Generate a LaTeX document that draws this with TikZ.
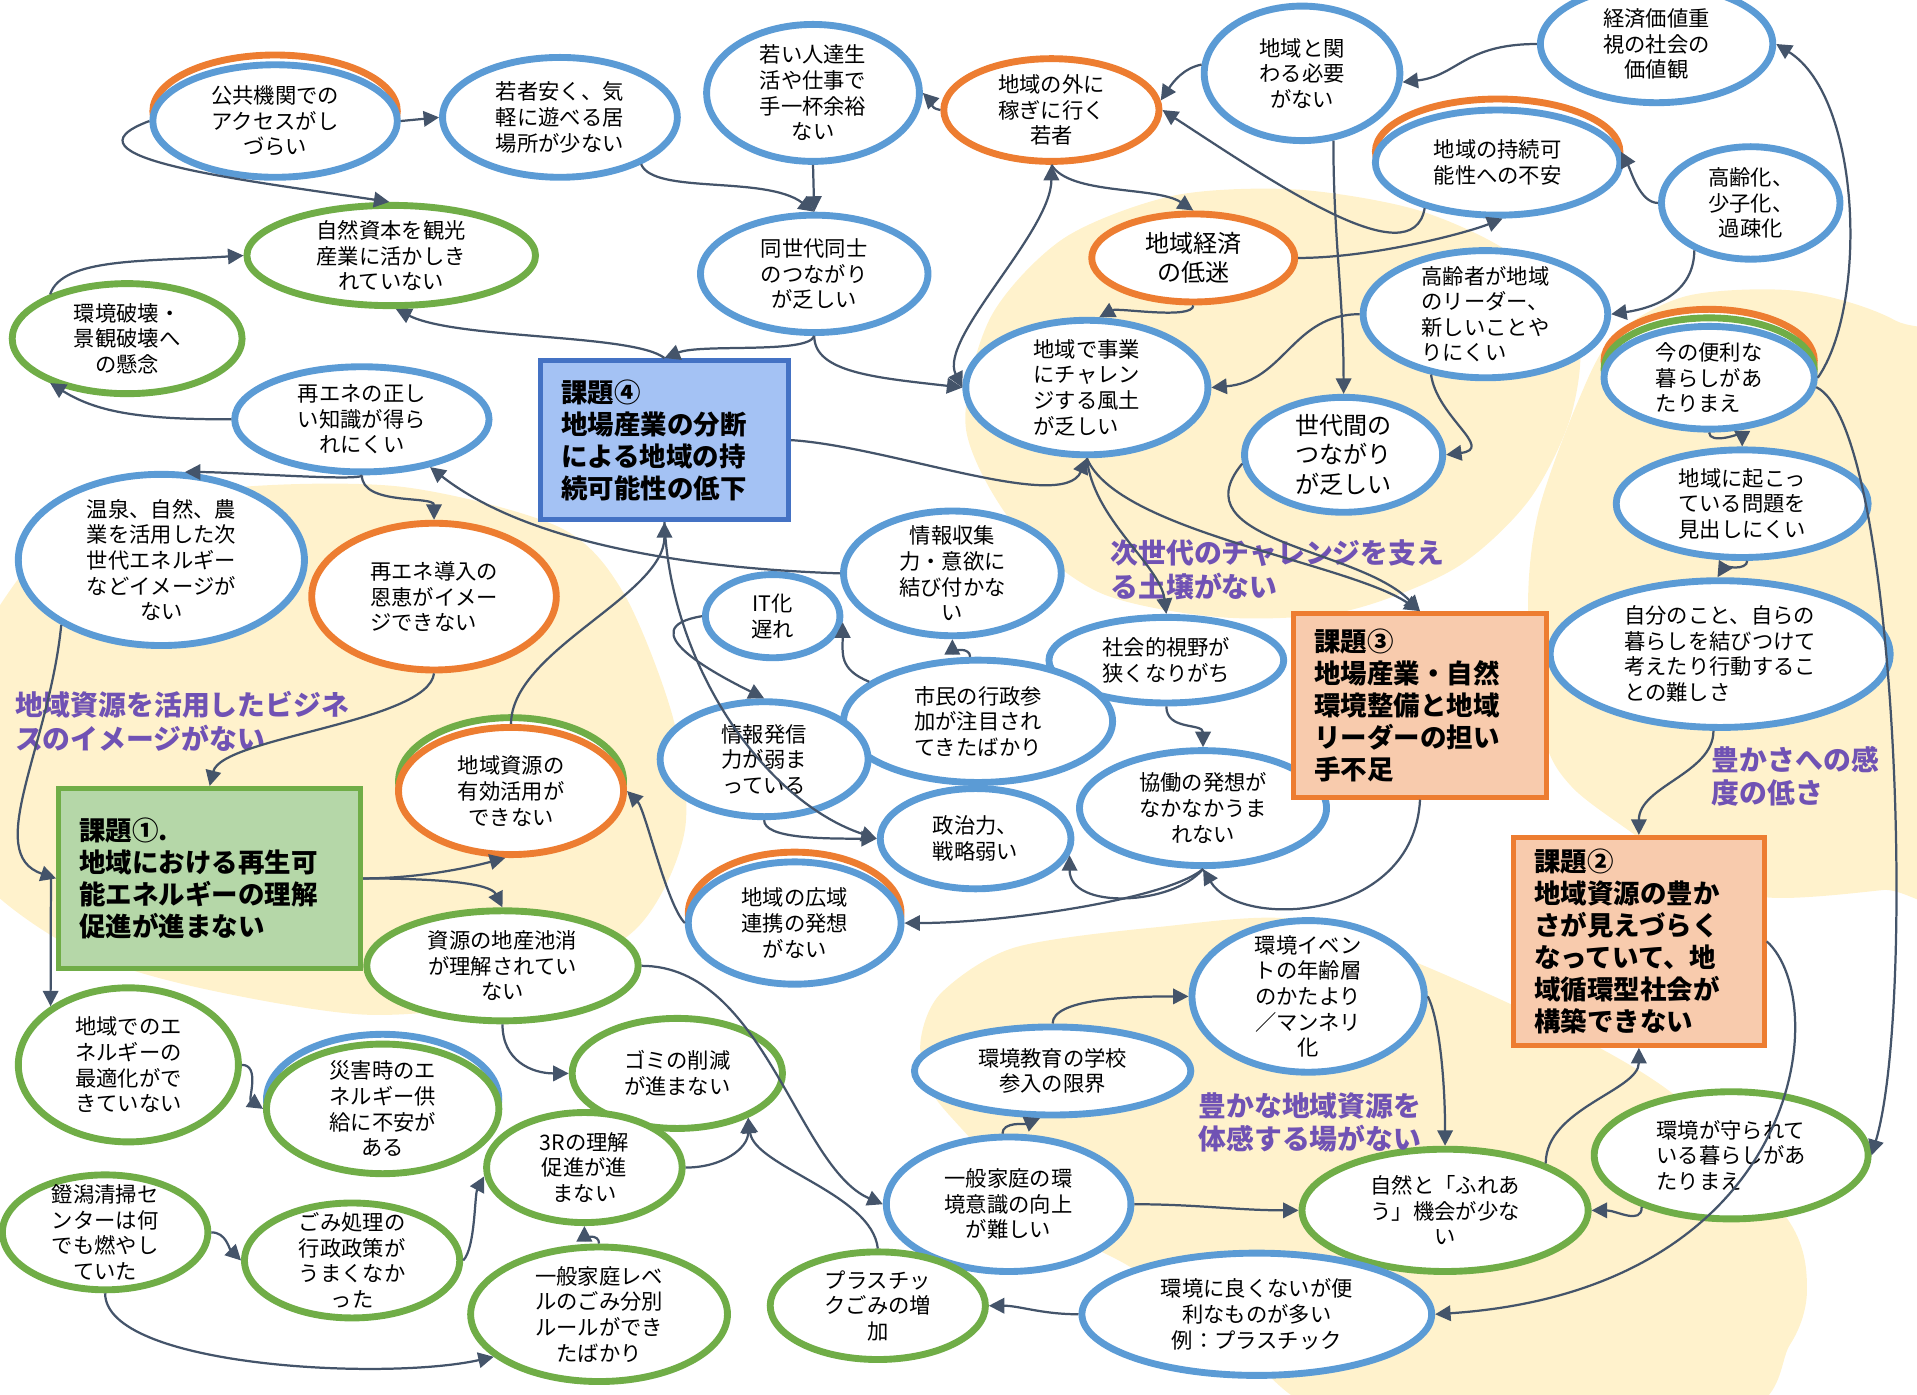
\documentclass[tikz,border=0pt]{standalone}
\usepackage{fontspec}
\setmainfont{Noto Sans CJK JP}
\usepackage{tikz}
\usetikzlibrary{arrows.meta,shapes.geometric}
\definecolor{cBlue}{HTML}{5B9BD5}
\definecolor{cOrange}{HTML}{ED7D31}
\definecolor{cGreen}{HTML}{70AD47}
\definecolor{cLine}{HTML}{44546A}
\definecolor{cCream}{HTML}{FFF2CC}
\definecolor{cPurple}{HTML}{7052B4}
\definecolor{cBoxBlue}{HTML}{A4C2F4}
\definecolor{cBoxBlueLine}{HTML}{4472C4}
\definecolor{cBoxOrange}{HTML}{F8CBAD}
\definecolor{cBoxGreen}{HTML}{B5D7A8}
\newcommand\elf{\fontsize{12.4pt}{14.9pt}\selectfont}
\newcommand\elfb{\fontsize{14pt}{17pt}\selectfont}
\newcommand\bxf{\bfseries\fontsize{15.4pt}{18.6pt}\selectfont}
\newcommand\lbf{\bfseries\fontsize{16.2pt}{19.4pt}\selectfont}

\begin{document}
\begin{tikzpicture}[x=0.025cm,y=-0.025cm,>={Triangle[length=9pt,width=9pt]},
 el/.style={ellipse,line width=4pt,fill=white,align=center,inner sep=-6pt,font=\elf},
 bl/.style={el,draw=cBlue},
 gr/.style={el,draw=cGreen},
 og/.style={el,draw=cOrange},
 sz/.style 2 args={minimum width=#1*0.05cm,minimum height=#2*0.05cm},
 ring/.style={line width=4pt,draw=#1,fill=white},
 bx/.style={rectangle,line width=3pt,align=left,inner sep=0pt,font=\bxf},
 lb/.style={anchor=west,align=left,text=cPurple,font=\lbf,inner sep=0pt},
 e/.style={->,line width=1.3pt,draw=cLine}]
\useasboundingbox (0,0) rectangle (1568,1141);
\clip (0,0) rectangle (1568,1141);

\fill[cCream] plot[smooth cycle] coordinates {(0,495) (60,430) (180,400) (327,398) (457,431) (510,485) (551,589) (560,680) (520,760) (420,815) (300,830) (150,805) (50,770) (-30,700) (-40,580)};
\fill[cCream] plot[smooth cycle] coordinates {(790,350) (810,260) (870,195) (960,160) (1060,155) (1160,172) (1240,210) (1290,270) (1285,340) (1250,410) (1190,465) (1100,500) (1000,505) (900,485) (830,430)};
\fill[cCream] plot[smooth cycle] coordinates {(1250,500) (1258,420) (1290,330) (1320,275) (1380,242) (1470,238) (1550,262) (1620,320) (1620,715) (1540,728) (1445,734) (1379,712) (1336,682) (1286,644) (1263,603)};
\fill[cCream] plot[smooth cycle] coordinates {(753,851) (770,812) (830,775) (950,758) (1060,752) (1165,790) (1297,851) (1381,905) (1464,1000) (1478,1055) (1464,1100) (1410,1160) (1100,1160) (1000,1085) (924,1036) (860,1000) (790,927) (760,890)};

\draw[ring=cOrange] (225,91) ellipse [x radius=100,y radius=46];
\draw[ring=cOrange] (1225,124) ellipse [x radius=100,y radius=43];
\draw[ring=cOrange] (1398,295) ellipse [x radius=86,y radius=42];
\draw[ring=cGreen] (1398,302) ellipse [x radius=86,y radius=42];
\draw[ring=cGreen] (418,639) ellipse [x radius=92,y radius=52];
\draw[ring=cOrange] (650,747) ellipse [x radius=87,y radius=50];
\draw[ring=cBlue] (313,899) ellipse [x radius=95,y radius=53];

\node[bl,sz={100}{46}] (acc) at (225,99) {公共機関での\\アクセスがし\\づらい};
\node[bl,sz={96}{49}] (ibasho) at (458,96) {若者安く、気\\軽に遊べる居\\場所が少ない};
\node[bl,sz={87}{56}] (yoyu) at (665,76) {若い人達生\\活や仕事で\\手一杯余裕\\ない};
\node[og,sz={88}{42}] (soto) at (860,90) {地域の外に\\稼ぎに行く\\若者};
\node[bl,sz={80}{55}] (kakawaru) at (1065,60) {地域と関\\わる必要\\がない};
\node[bl,sz={95}{48}] (keizai) at (1355,36) {経済価値重\\視の社会の\\価値観};
\node[bl,sz={100}{43}] (jizoku) at (1225,133) {地域の持続可\\能性への不安};
\node[bl,sz={73}{46},align=left] (koreika) at (1432,166) {高齢化、\\少子化、\\\hspace*{0.5em}過疎化};
\node[gr,sz={118}{41}] (tourism) at (320,209) {自然資本を観光\\産業に活かしき\\れていない};
\node[gr,sz={94}{45}] (keikan) at (104,277) {環境破壊・\\景観破壊へ\\の懸念};
\node[bl,sz={93}{48}] (sedai) at (666,224) {同世代同士\\のつながり\\が乏しい};
\node[og,sz={83}{36},font=\elfb] (teimei) at (976,211) {地域経済\\の低迷};
\node[bl,sz={100}{52},align=left] (leader) at (1215,257) {高齢者が地域\\のリーダー、\\新しいことや\\りにくい};
\node[bl,sz={86}{42},align=left] (benri) at (1398,309) {今の便利な\\暮らしがあ\\たりまえ};
\node[bl,sz={99}{55},align=left] (challenge) at (889,317) {地域で事業\\にチャレン\\ジする風土\\が乏しい};
\node[bl,sz={81}{47},font=\elfb,align=left] (sedaikan) at (1099,372) {世代間の\\つながり\\が乏しい};
\node[bl,sz={104}{43}] (chishiki) at (296,343) {再エネの正し\\い知識が得ら\\れにくい};
\node[bl,sz={103}{44}] (hakken) at (1425,412) {地域に起こっ\\ている問題を\\見出しにくい};
\node[bl,sz={117}{70}] (onsen) at (132,458) {温泉、自然、農\\業を活用した次\\世代エネルギー\\などイメージが\\ない};
\node[og,sz={100}{60},align=left] (onkei) at (355,488) {再エネ導入の\\恩恵がイメー\\ジできない};
\node[bl,sz={89}{51}] (joho) at (779,469) {情報収集\\力・意欲に\\結び付かな\\い};
\node[bl,sz={55}{34}] (itka) at (632,504) {IT化\\遅れ};
\node[bl,sz={139}{60},align=left] (jibun) at (1407,535) {自分のこと、自らの\\暮らしを結びつけて\\考えたり行動するこ\\との難しさ};
\node[bl,sz={96}{35}] (shakai) at (954,540) {社会的視野が\\狭くなりがち};
\node[bl,sz={110}{50}] (shimin) at (800,590) {市民の行政参\\加が注目され\\てきたばかり};
\node[bl,sz={85}{47}] (hasshin) at (625,621) {情報発信\\力が弱ま\\っている};
\node[og,sz={92}{52}] (katsuyo) at (418,647) {地域資源の\\有効活用が\\できない};
\node[bl,sz={101}{47}] (kyodo) at (984,661) {協働の発想が\\なかなかうま\\れない};
\node[bl,sz={78}{41}] (seiji) at (798,686) {政治力、\\戦略弱い};
\node[bl,sz={87}{50}] (koiki) at (650,755) {地域の広域\\連携の発想\\がない};
\node[gr,sz={111}{45}] (chisan) at (411,790) {資源の地産池消\\が理解されてい\\ない};
\node[bl,sz={95}{62}] (event) at (1070,815) {環境イベン\\トの年齢層\\のかたより\\／マンネリ\\化};
\node[gr,sz={90}{63},align=left] (enopt) at (105,871) {地域でのエ\\ネルギーの\\最適化がで\\きていない};
\node[bl,sz={113}{36}] (gakko) at (861,876) {環境教育の学校\\参入の限界};
\node[gr,sz={86}{45}] (gomi) at (554,878) {ゴミの削減\\が進まない};
\node[gr,sz={95}{53}] (saigai) at (313,907) {災害時のエ\\ネルギー供\\給に不安が\\ある};
\node[gr,sz={80}{45}] (sanR) at (478,955) {3Rの理解\\促進が進\\まない};
\node[bl,sz={100}{55}] (ippan) at (825,985) {一般家庭の環\\境意識の向上\\が難しい};
\node[gr,sz={117}{50}] (shizen) at (1182,990) {自然と「ふれあ\\う」機会が少な\\い};
\node[gr,sz={112}{52},align=left] (mamorare) at (1416,945) {環境が守られて\\いる暮らしがあ\\たりまえ};
\node[gr,sz={84}{47}] (kameda) at (86,1008) {鐙潟清掃セ\\ンターは何\\でも燃やし\\ていた};
\node[gr,sz={88}{47}] (gomishori) at (288,1031) {ごみ処理の\\行政政策が\\うまくなか\\った};
\node[gr,sz={105}{55}] (bunbetsu) at (490,1075) {一般家庭レベ\\ルのごみ分別\\ルールができ\\たばかり};
\node[gr,sz={88}{44}] (plastic) at (718,1068) {プラスチッ\\クごみの増\\加};
\node[bl,sz={143}{50}] (plbenri) at (1028,1075) {環境に良くないが便\\利なものが多い\\例：プラスチック};

\node[bx,draw=cBoxBlueLine,fill=cBoxBlue,minimum width=203*0.025cm,minimum height=130*0.025cm,text width=169*0.025cm] (kadai4) at (543.5,360) {課題④\\地場産業の分断\\による地域の持\\続可能性の低下};
\node[bx,draw=cOrange,fill=cBoxOrange,minimum width=207*0.025cm,minimum height=150*0.025cm,text width=173*0.025cm] (kadai3) at (1161.5,577) {課題③\\地場産業・自然\\環境整備と地域\\リーダーの担い\\手不足};
\node[bx,draw=cGreen,fill=cBoxGreen,minimum width=247*0.025cm,minimum height=147*0.025cm,text width=213*0.025cm] (kadai1) at (171.5,718.5) {課題①.\\地域における再生可\\能エネルギーの理解\\促進が進まない};
\node[bx,draw=cOrange,fill=cBoxOrange,minimum width=205*0.025cm,minimum height=170*0.025cm,text width=171*0.025cm] (kadai2) at (1340.5,770) {課題②\\地域資源の豊か\\さが見えづらく\\なっていて、地\\域循環型社会が\\構築できない};

\node[lb] (lbbiz) at (12,590) {地域資源を活用したビジネ\\スのイメージがない};
\node[lb] (lbjisedai) at (908,466) {次世代のチャレンジを支え\\る土壌がない};
\node[lb] (lbkando) at (1400,635) {豊かさへの感\\度の低さ};
\node[lb] (lbtaikan) at (980,918) {豊かな地域資源を\\体感する場がない};

\draw[e] (acc.0) -- (ibasho.180);
\draw[e] (acc.180) .. controls +(-80,30) and +(-120,-18) .. (tourism.92);
\draw[e] (keikan.150) .. controls +(10,-30) and +(-80,5) .. (tourism.180);
\draw[e] (chishiki.180) .. controls +(-70,0) and +(40,25) .. (keikan.210);
\draw[e] (kadai4.north) .. controls +(-25,-20) and +(50,25) .. (tourism.275);
\draw[e] (yoyu.270) -- (sedai.90);
\draw[e] (ibasho.330) .. controls +(10,25) and +(-40,-30) .. (sedai.90);
\draw[e] (soto.180) .. controls +(-10,-2) and +(8,8) .. (yoyu.0);
\draw[e] (kakawaru.175) .. controls +(-15,3) and +(10,-15) .. (soto.5);
\draw[e] (keizai.180) .. controls +(-60,0) and +(45,-5) .. (kakawaru.355);
\draw[e] (jizoku.212) .. controls +(-10,57) and +(92,60) .. (soto.0);
\draw[e,<->] (soto.270) .. controls +(0,55) and +(-20,-40) .. (challenge.180);
\draw[e] (soto.270) .. controls +(15,25) and +(-30,-20) .. (teimei.90);
\draw[e] (teimei.270) .. controls +(0,12) and +(15,-8) .. (challenge.80);
\draw[e] (teimei.0) .. controls +(60,0) and +(-30,12) .. (jizoku.275);
\draw[e] (kakawaru.295) .. controls +(0,80) and +(0,-80) .. (sedaikan.90);
\draw[e] (koreika.180) .. controls +(-15,0) and +(8,15) .. (jizoku.5);
\draw[e] (koreika.220) .. controls +(0,35) and +(35,-5) .. (leader.0);
\draw[e] (leader.180) .. controls +(-55,0) and +(60,-5) .. (challenge.0);
\draw[e] (leader.228) .. controls +(5,35) and +(40,-5) .. (sedaikan.0);
\draw[e] (benri.0) .. controls +(41,-59) and +(70,44) .. (keizai.0);
\draw[e] (benri.355) .. controls +(66,31) and +(37,-125) .. (mamorare.0);
\draw[e] (benri.270) .. controls +(0,10) and +(0,-10) .. (hakken.90);
\draw[e] (hakken.275) .. controls +(0,8) and +(5,-8) .. (jibun.92);
\draw[e] (jibun.265) .. controls +(0,35) and +(0,-40) .. (kadai2.north);
\draw[e] (sedai.270) .. controls +(0,30) and +(-70,-8) .. (challenge.180);
\draw[e] (sedai.270) .. controls +(-5,15) and +(30,-12) .. (kadai4.north);
\draw[e] (kadai4.east) .. controls +(80,5) and +(-20,45) .. (challenge.270);
\draw[e] (challenge.270) .. controls +(25,60) and +(-60,-40) .. (kadai3.north);
\draw[e] (challenge.270) .. controls +(5,50) and +(-5,-40) .. (shakai.90);
\draw[e] (sedaikan.185) .. controls +(-53,64) and +(-51,-52) .. (kadai3.north);
\draw[e] (shakai.270) .. controls +(0,20) and +(0,-20) .. (kyodo.90);
\draw[e] (kadai3.south) .. controls +(-5,100) and +(30,50) .. (kyodo.270);
\draw[e] (kyodo.270) .. controls +(-30,25) and +(80,0) .. (koiki.0);
\draw[e] (kyodo.270) .. controls +(-25,30) and +(0,45) .. (seiji.350);
\draw[e] (shimin.97) .. controls +(0,-8) and +(0,8) .. (joho.270);
\draw[e] (shimin.160) .. controls +(-25,-10) and +(0,25) .. (itka.355);
\draw[e] (itka.180) .. controls +(-60,10) and +(-40,-20) .. (hasshin.90);
\draw[e] (joho.180) .. controls +(-150,-5) and +(70,55) .. (chishiki.325);
\draw[e] (hasshin.270) .. controls +(0,15) and +(-45,0) .. (seiji.180);
\draw[e] (kadai4.south) .. controls +(5,120) and +(-90,-30) .. (seiji.180);
\draw[e] (katsuyo.90) .. controls +(0,-60) and +(0,60) .. (kadai4.south);
\draw[e] (onkei.270) .. controls +(-5,40) and +(10,-40) .. (kadai1.north);
\draw[e] (chishiki.270) .. controls +(0,5) and +(40,0) .. (onsen.75);
\draw[e] (chishiki.270) .. controls +(0,25) and +(0,-20) .. (onkei.90);
\draw[e] (onsen.213) .. controls +(-10,100) and +(-60,-20) .. (kadai1.west);
\draw[e] ([xshift=-3pt]kadai1.west) -- (enopt.143);
\draw[e] (kadai1.east) .. controls +(45,0) and +(-30,8) .. (katsuyo.265);
\draw[e] (kadai1.east) .. controls +(60,0) and +(-10,-20) .. (chisan.90);
\draw[e] (koiki.180) .. controls +(-15,-15) and +(15,15) .. (katsuyo.0);
\draw[e] (enopt.0) .. controls +(15,0) and +(-12,-8) .. (saigai.180);
\draw[e] (chisan.270) .. controls +(0,30) and +(-30,0) .. (gomi.180);
\draw[e] (chisan.0) .. controls +(100,0) and +(-70,-30) .. (ippan.180);
\draw[e] (sanR.0) .. controls +(30,0) and +(0,25) .. (gomi.328);
\draw[e] (plastic.90) .. controls +(-5,-45) and +(5,40) .. (gomi.328);
\draw[e] (gomishori.0) .. controls +(10,-10) and +(-8,15) .. (sanR.185);
\draw[e] (kameda.0) .. controls +(12,0) and +(-10,-10) .. (gomishori.180);
\draw[e] (kameda.270) .. controls +(0,60) and +(-90,20) .. (bunbetsu.202);
\draw[e] (bunbetsu.90) .. controls +(0,-8) and +(0,8) .. (sanR.270);
\draw[e] (plbenri.180) .. controls +(-30,0) and +(25,0) .. (plastic.0);
\draw[e] (ippan.95) .. controls +(0,-10) and +(-12,5) .. (gakko.255);
\draw[e] (gakko.90) .. controls +(0,-20) and +(-50,0) .. (event.180);
\draw[e] (ippan.0) .. controls +(50,0) and +(-50,0) .. (shizen.180);
\draw[e] (event.0) .. controls +(10,20) and +(0,-50) .. (shizen.90);
\draw[e] (mamorare.210) .. controls +(0,15) and +(20,0) .. (shizen.0);
\draw[e] (shizen.25) .. controls +(0,-45) and +(0,35) .. (kadai2.south);
\draw[e] (kadai2.east) .. controls +(55,50) and +(300,-20) .. (plbenri.0);
\end{tikzpicture}
\end{document}
